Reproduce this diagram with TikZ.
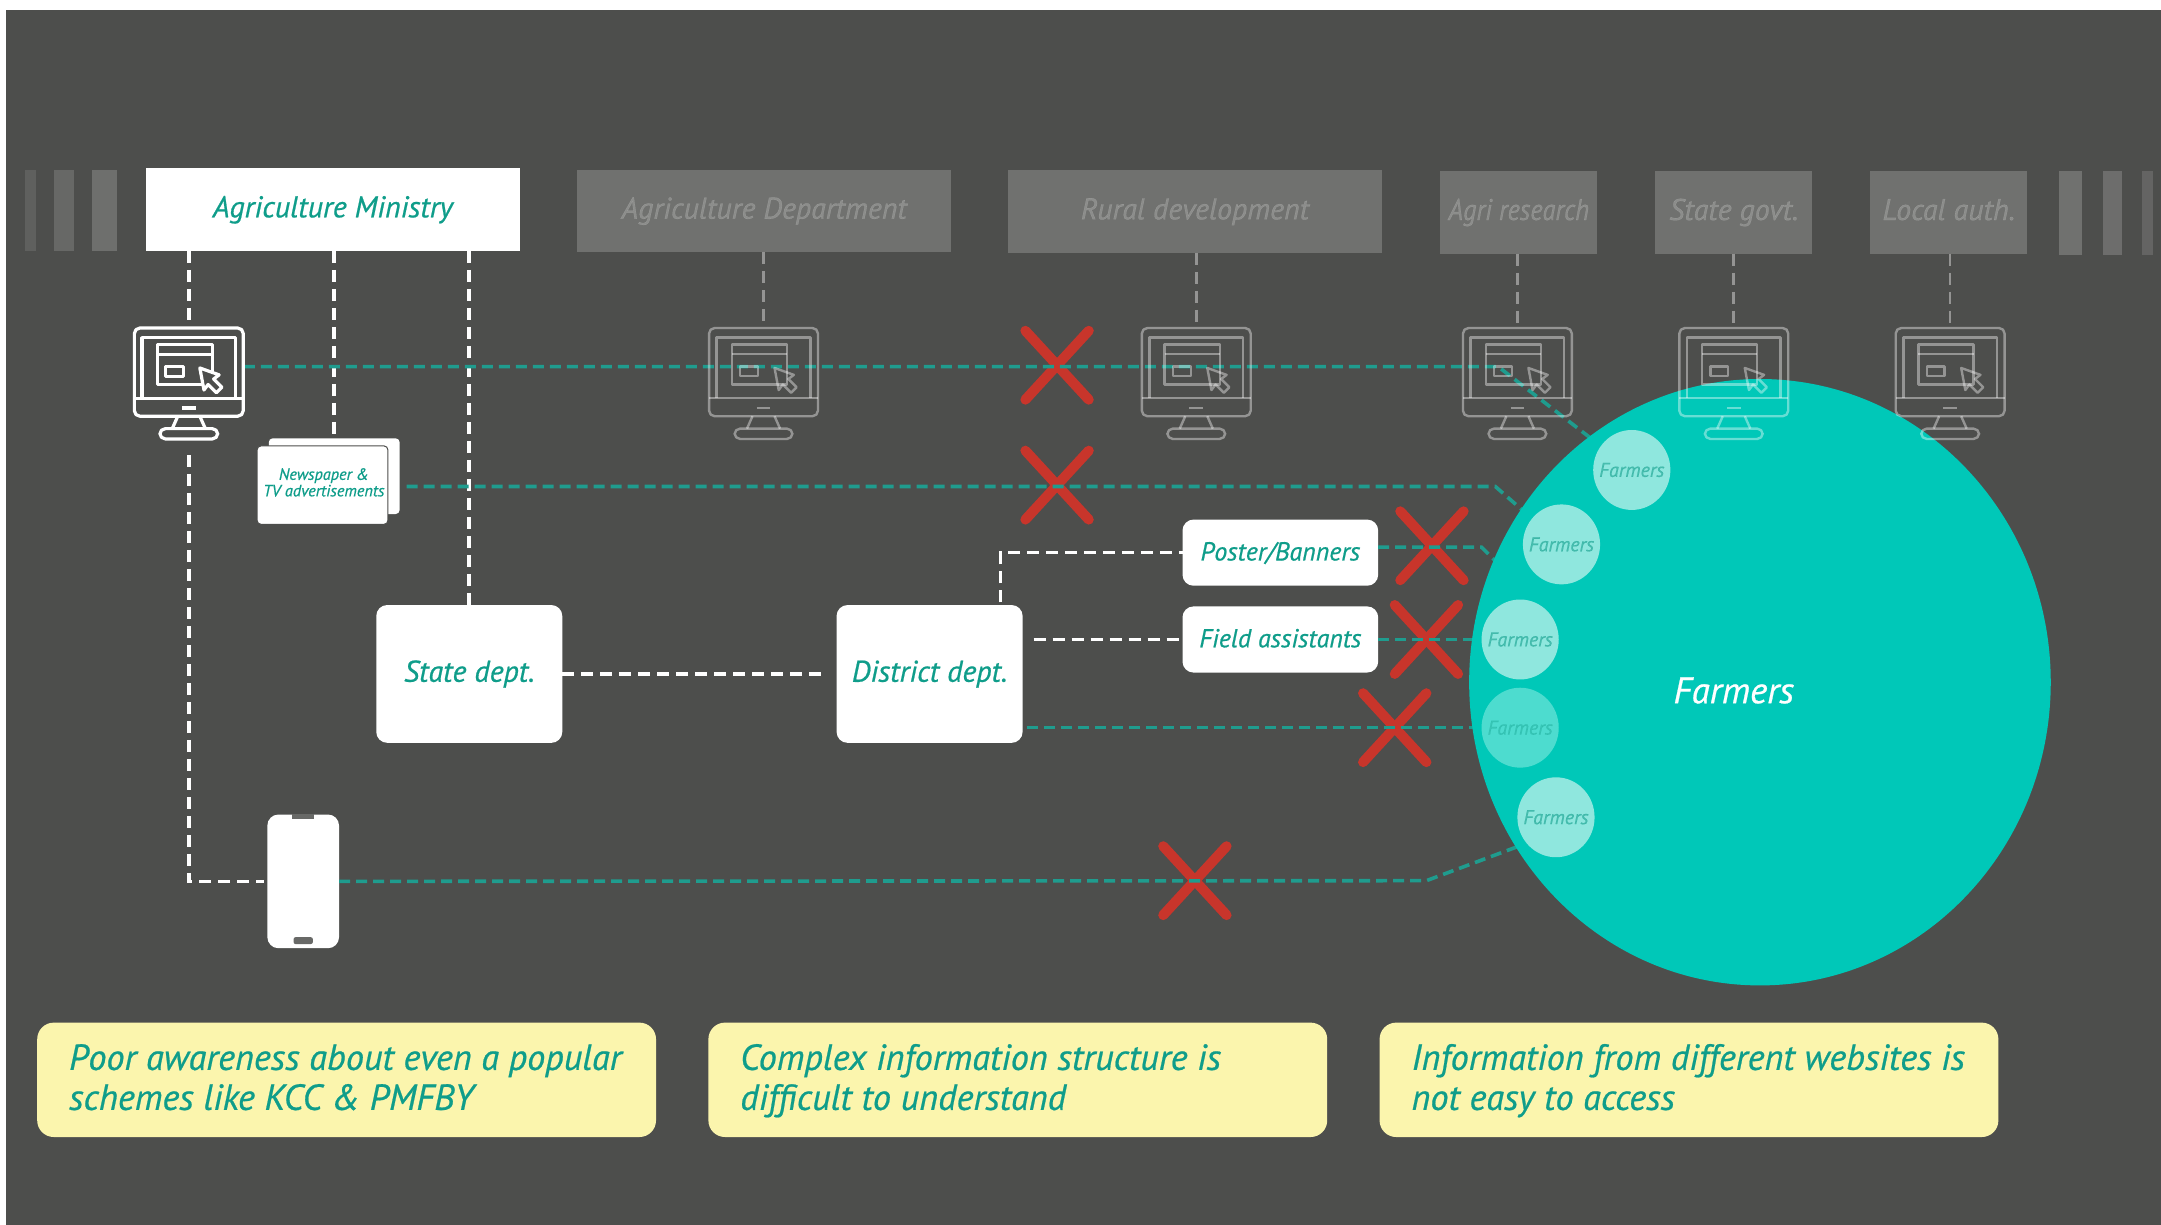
\documentclass[tikz,border=0pt]{standalone}
\usepackage{fontspec}
\setmainfont{PT Sans}[ItalicFeatures={FakeBold=0.6}]
\definecolor{bgc}{HTML}{4D4E4C}
\definecolor{teal1}{HTML}{0F9D8A}
\definecolor{tealline}{HTML}{1F9C8E}
\definecolor{circ}{HTML}{00C8B8}
\definecolor{circl}{HTML}{8FE7DE}
\definecolor{circm}{HTML}{4DDCCF}
\definecolor{redx}{HTML}{C8352B}
\definecolor{yel}{HTML}{FBF5AD}
\newlength{\uu}\setlength{\uu}{1.3782pt}
\newcommand{\fs}[1]{\fontsize{#1}{#1}\selectfont\itshape}
\newcommand{\monitor}[4]{%
  \begin{scope}[shift={(#1,#2)},#3]
    \draw[rounded corners=4*\uu] (-39.5,-40) rectangle (39.5,24);
    \draw (-34,11) -- (-34,-33) -- (34,-33) -- (34,11);
    \draw (-39.5,11) -- (39.5,11);
    \draw (-23,-28) rectangle (17,1);
    \draw (-23,-21) -- (17,-21);
    \draw (-17,-12) rectangle (-4,-5);
    \draw[#4] (8,-11) -- (22,-6) -- (18,-3) -- (24,3) -- (20,7) -- (14,1) -- (11,5) -- cycle;
    \draw (-5,18) -- (5,18);
    \draw (-8,24) -- (-12,33);
    \draw (8,24) -- (12,33);
    \draw[rounded corners=4*\uu] (-21,33) rectangle (21,40.5);
  \end{scope}}
\newcommand{\redcross}[2]{%
  \draw[xline] (#1-23,#2-25) -- (#1+23,#2+25);
  \draw[xline] (#1+23,#2-25) -- (#1-23,#2+25);}
\tikzset{
  x=\uu,y=-\uu,
  hit/.style={inner sep=0pt,outer sep=0pt},
  mainbox/.style={fill=white,inner sep=0pt,outer sep=0pt,text=teal1,font=\fs{30},text height=21.6pt,text depth=6pt},
  greybox/.style={fill=white,fill opacity=.2,text opacity=.2,text=white,inner sep=0pt,outer sep=0pt,font=\fs{30},text height=21.6pt,text depth=6pt},
  stripe/.style={fill=white,fill opacity=#1,draw=none},
  roundbox/.style={mainbox,rounded corners=8*\uu},
  whitedash/.style={draw=white,line width=3.6pt,dash pattern=on 12pt off 7pt},
  greydash/.style={draw=white,draw opacity=.4,line width=2.6pt,dash pattern=on 12pt off 7pt},
  tealdash/.style={draw=tealline,line width=3.6pt,dash pattern=on 11pt off 6pt},
  mono/.style={draw=white,line width=3.2pt,line join=round},
  monog/.style={draw=white,draw opacity=.4,line width=2.4pt,line join=round},
  xline/.style={draw=redx,line width=10pt,line cap=round},
  smallc/.style={ellipse,minimum width=56*\uu,minimum height=58*\uu,inner sep=0pt},
  smallt/.style={inner sep=0pt,text=teal1,text opacity=.55,font=\fs{20}},
  note/.style={fill=yel,rounded corners=12*\uu,inner sep=0pt,minimum width=449*\uu,minimum height=83*\uu},
  notetext/.style={text=teal1,font=\fontsize{36.3}{40}\selectfont\itshape,align=left,anchor=west,inner sep=0pt},
}
\usetikzlibrary{shapes.geometric}
\begin{document}
\begin{tikzpicture}
\useasboundingbox (0,0) rectangle (1568,888.8);
\fill[white] (0,0) rectangle (1568,888.8);
\fill[bgc] (4,7) rectangle (1568,888.8);
% side stripes
\fill[stripe=.1] (18,123) rectangle (26,182);
\fill[stripe=.15] (39,123) rectangle (54,182);
\fill[stripe=.19] (67,123) rectangle (85,182);
\fill[stripe=.2] (1494,124) rectangle (1511,185);
\fill[stripe=.18] (1526,124) rectangle (1540,185);
\fill[stripe=.13] (1554,124) rectangle (1562,185);
% top row
\node[mainbox,minimum width=271*\uu,minimum height=60*\uu] (t1) at (241.5,152) {Agriculture Ministry};
\node[greybox,minimum width=271*\uu,minimum height=60*\uu] (t2) at (554.5,153) {Agriculture Department};
\node[greybox,minimum width=271*\uu,minimum height=60*\uu] (t3) at (867,153.5) {Rural development};
\node[greybox,minimum width=114*\uu,minimum height=60*\uu] (t4) at (1102,154) {\scalebox{.88}[1]{Agri research}};
\node[greybox,minimum width=114*\uu,minimum height=60*\uu] (t5) at (1258,154) {State govt.};
\node[greybox,minimum width=114*\uu,minimum height=60*\uu] (t6) at (1414,154) {Local auth.};
% invisible anchors for monitors
\node[hit,minimum width=80*\uu,minimum height=82*\uu] (m1) at (137,278) {};
\node[hit,minimum width=80*\uu,minimum height=82*\uu] (m2) at (554,278) {};
\node[hit,minimum width=80*\uu,minimum height=82*\uu] (m3) at (868,278) {};
\node[hit,minimum width=80*\uu,minimum height=82*\uu] (m4) at (1101,278) {};
\node[hit,minimum width=80*\uu,minimum height=82*\uu] (m5) at (1258,278) {};
\node[hit,minimum width=80*\uu,minimum height=82*\uu] (m6) at (1415,278) {};
% lower boxes
\node[fill=white,rounded corners=3*\uu,minimum width=95*\uu,minimum height=55*\uu,inner sep=0pt] (nb) at (242.5,345.5) {};
\node[fill=white,draw=bgc,line width=1pt,rounded corners=3*\uu,minimum width=95*\uu,minimum height=57*\uu,inner sep=0pt] (n) at (234,352) {};
\node[text=teal1,font=\fontsize{16.3}{16.5}\selectfont\itshape,align=center,inner sep=0pt] (nt) at (235,350) {Newspaper \&\\TV advertisements};
\node[roundbox,minimum width=135*\uu,minimum height=100*\uu] (state) at (340.5,489) {State dept.};
\node[roundbox,minimum width=135*\uu,minimum height=100*\uu] (district) at (674.5,489) {District dept.};
\node[roundbox,font=\fs{26},minimum width=142*\uu,minimum height=48*\uu] (poster) at (929,401) {Poster/Banners};
\node[roundbox,font=\fs{26},minimum width=142*\uu,minimum height=48*\uu] (field) at (929,464) {Field assistants};
\node[fill=white,rounded corners=8*\uu,minimum width=52*\uu,minimum height=97*\uu,inner sep=0pt] (phone) at (220,639.5) {};
\fill[bgc!85!white,rounded corners=1.5*\uu] (213,680) rectangle (227,685);
\fill[bgc!85!white] (212,590.5) rectangle (228,594);
% white connectors
\draw[whitedash] (t1.south -| m1.north) -- (m1.north);
\draw[whitedash] (t1.south -| nb.north) -- (nb.north);
\draw[whitedash] (t1.south -| state.north) -- (state.north);
\draw[whitedash,shorten <=11*\uu,shorten >=2*\uu] (m1.south) -- (m1.south |- phone.west) -- (phone.west);
\draw[whitedash,shorten >=7*\uu] (state.east) -- (district.west);
\coordinate (dn) at (726,437);
\coordinate (fs) at (750,464);
\draw[whitedash] (dn) -- (dn |- poster.west) -- (poster.west);
\draw[whitedash] (fs) -- (field.west);
% grey connectors
\foreach \t/\m in {t2/m2,t3/m3,t4/m4,t5/m5,t6/m6}
  \draw[greydash] (\t.south -| \m.north) -- (\m.north);
% crosses
\redcross{767}{265}
\redcross{767}{352}
\redcross{1039}{396}
\redcross{1035}{464}
\redcross{1012}{528}
\redcross{867}{639}
% small circle anchors
\coordinate (f1) at (1184,341);
\coordinate (f2) at (1133,395);
\coordinate (f3) at (1103,464);
\coordinate (f4) at (1103,528);
\coordinate (f5) at (1129,593);
% teal connectors
\coordinate (a0) at (177,266);
\coordinate (a1) at (1087,266);
\coordinate (b1) at (1085,353);
\coordinate (c0) at (1000,397);
\coordinate (c1) at (1075,397);
\coordinate (c2) at (1090,412);
\coordinate (d0) at (745,528);
\coordinate (e1) at (1035,639);
\coordinate (e2) at (1110,611);
\coordinate (b0) at (295,353);
\draw[tealdash] (a0) -- (a1) -- (f1);
\draw[tealdash] (b0) -- (b1) -- (f2);
\draw[tealdash] (c0) -- (c1) -- (c2);
\draw[tealdash] (field.east) -- (f3);
\draw[tealdash] (d0) -- (f4);
\draw[tealdash] (phone.east) -- (e1) -- (e2);
% big circle
\node[ellipse,fill=circ,minimum width=422*\uu,minimum height=440*\uu,inner sep=0pt] (big) at (1277,495) {};
\node[text=white,font=\fs{37},inner sep=0pt] (bigl) at (1258,501) {Farmers};
\node[smallc,fill=circl] (c1n) at (f1) {};
\node[smallc,fill=circl] (c2n) at (f2) {};
\node[smallc,fill=circl] (c3n) at (f3) {};
\node[smallc,fill=circm] (c4n) at (f4) {};
\node[smallc,fill=circl] (c5n) at (f5) {};
\node[smallt] (l1) at (f1) {Farmers};
\node[smallt] (l2) at (f2) {Farmers};
\node[smallt] (l3) at (f3) {Farmers};
\node[smallt,text opacity=.35] (l4) at (f4) {Farmers};
\node[smallt] (l5) at (f5) {Farmers};
% monitors
\monitor{137}{278}{mono}{fill=bgc}
\monitor{554}{278}{monog}{}
\monitor{868}{278}{monog}{}
\monitor{1101}{278}{monog}{}
\monitor{1258}{278}{monog}{}
\monitor{1415}{278}{monog}{}
% notes
\node[note] (y1) at (251.5,783.5) {};
\node[note] (y2) at (738.5,783.5) {};
\node[note] (y3) at (1225.5,783.5) {};
\node[notetext] (ty1) at (50,785) {\strut Poor awareness about even a popular\\schemes like KCC \& PMFBY\strut};
\node[notetext] (ty2) at (537,785) {\strut Complex information structure is\\difficult to understand\strut};
\node[notetext] (ty3) at (1024,785) {\strut Information from different websites is\\not easy to access\strut};
\end{tikzpicture}
\end{document}
